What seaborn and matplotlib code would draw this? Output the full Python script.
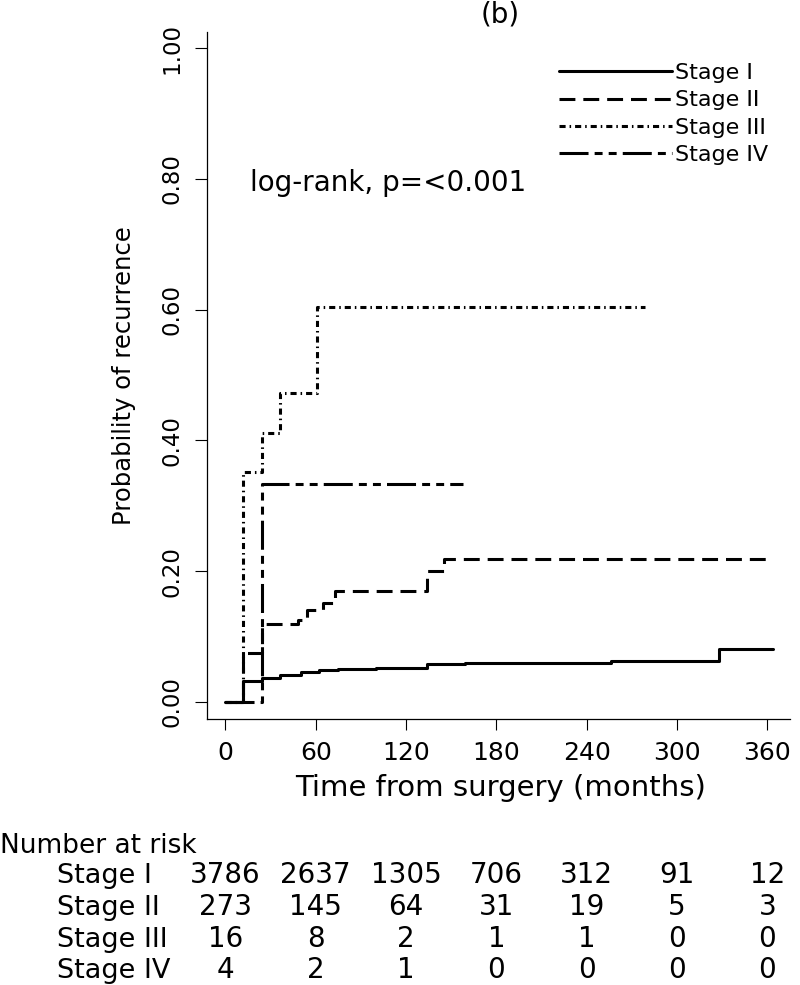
import numpy as np
import pandas as pd
import matplotlib
matplotlib.use("Agg")
import matplotlib.pyplot as plt
import matplotlib.transforms as mtransforms
import seaborn as sns

# ---------------- data ----------------
stages = ["Stage I", "Stage II", "Stage III", "Stage IV"]

stage_I_t = [0, 12, 24, 36, 50, 62, 75, 100, 134, 159, 256, 328, 364]
stage_I_p = [0, 0.032, 0.037, 0.042, 0.046, 0.049, 0.050, 0.052, 0.0576, 0.060, 0.0627, 0.0805, 0.0805]

stage_II_t = [0, 12, 24, 48, 54, 65, 73, 134, 145, 359]
stage_II_p = [0, 0.075, 0.119, 0.125, 0.141, 0.151, 0.170, 0.200, 0.219, 0.219]

stage_III_t = [0, 12, 24, 36, 61, 279]
stage_III_p = [0, 0.352, 0.411, 0.472, 0.604, 0.604]

stage_IV_t = [0, 24, 158]
stage_IV_p = [0, 0.333, 0.333]

risk_times = [0, 60, 120, 180, 240, 300, 360]
risk_I = [3786, 2637, 1305, 706, 312, 91, 12]
risk_II = [273, 145, 64, 31, 19, 5, 3]
risk_III = [16, 8, 2, 1, 1, 0, 0]
risk_IV = [4, 2, 1, 0, 0, 0, 0]

xticks = [0, 60, 120, 180, 240, 300, 360]
yticks = [0.0, 0.2, 0.4, 0.6, 0.8, 1.0]
ytick_labels = ["0.00", "0.20", "0.40", "0.60", "0.80", "1.00"]

# ---------------- style ----------------
sns.set_theme(style="ticks")
plt.rcParams["font.family"] = ["DejaVu Sans"]
plt.rcParams["text.color"] = "black"
plt.rcParams["axes.labelcolor"] = "black"

fig = plt.figure(figsize=(8.0, 9.85), dpi=100)
W, H = 800, 985
ax = fig.add_axes([207 / W, 1 - 719 / H, (790 - 207) / W, (719 - 32) / H])

curves = [
    (stage_I_t, stage_I_p, "-"),
    (stage_II_t, stage_II_p, (0, (5.2, 2.6))),
    (stage_III_t, stage_III_p, (0, (2.0, 1.3, 0.5, 1.3))),
    (stage_IV_t, stage_IV_p, (0, (9.5, 2.0, 2.6, 2.0, 2.6, 2.0))),
]
for name, (t, p, ls) in zip(stages, curves):
    df = pd.DataFrame({"t": t, "p": p})
    sns.lineplot(data=df, x="t", y="p", ax=ax, color="black", lw=2.2,
                 linestyle=ls, drawstyle="steps-post", estimator=None,
                 sort=False, label=name, legend=False)

ax.set_xlim(-12.2, 375)
ax.set_ylim(-0.026, 1.0245)
ax.set_xticks(xticks)
ax.set_xticklabels([str(v) for v in xticks], fontsize=18)
ax.set_yticks(yticks)
ax.set_yticklabels(ytick_labels, fontsize=16.5, rotation=90, va="center")
ax.tick_params(axis="y", length=9, width=0.8, pad=8, colors="black")
ax.tick_params(axis="x", length=8, width=0.8, pad=8, colors="black")
for s in ["top", "right"]:
    ax.spines[s].set_visible(False)
for s in ["left", "bottom"]:
    ax.spines[s].set_linewidth(0.9)
    ax.spines[s].set_color("black")

ax.set_xlabel("Time from surgery (months)", fontsize=21)
ax.set_ylabel("Probability of recurrence", fontsize=17.5)
ax.xaxis.set_label_coords(0.504, -0.080)
ax.yaxis.set_label_coords(-0.122, 0.5)

ax.text(16.4, 0.7936, "log-rank, p=<0.001", fontsize=20, va="center", ha="left")

fig.text(500 / W, 1 - 14 / H, "(b)", fontsize=20, ha="center", va="center")

handles, labels = ax.get_legend_handles_labels()
leg = ax.legend(handles, labels, loc="upper left",
                bbox_to_anchor=(559 / W, 1 - 63 / H), bbox_transform=fig.transFigure,
                frameon=False, fontsize=16, handlelength=5.1, handletextpad=0.13,
                labelspacing=0.33, borderpad=0, borderaxespad=0)

# ---------------- number at risk table ----------------
trans = mtransforms.blended_transform_factory(ax.transData, fig.transFigure)
fig.text(0 / W, 1 - 853 / H, "Number at risk", fontsize=19, ha="left", va="baseline")
row_y = [883, 915, 947, 978]
for name, counts, yy in zip(stages, [risk_I, risk_II, risk_III, risk_IV], row_y):
    fig.text(57 / W, 1 - yy / H, name, fontsize=19.5, ha="left", va="baseline")
    for t, c in zip(risk_times, counts):
        ax.text(t, 1 - yy / H, str(c), transform=trans, fontsize=20,
                ha="center", va="baseline", clip_on=False)

fig.savefig("out.png", dpi=100, facecolor="white")
